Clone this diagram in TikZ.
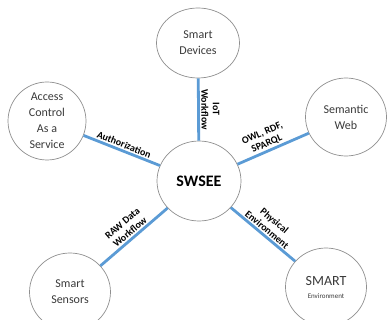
\documentclass[tikz,border=0pt]{standalone}
\usepackage{fontspec}
\setmainfont{Carlito}
\usepackage{tikz}
\usetikzlibrary{positioning,shapes.geometric}
\definecolor{link}{HTML}{5B9BD5}
\definecolor{rim}{HTML}{8F8F8F}
\definecolor{ink}{HTML}{3A3A3A}

\tikzset{
  hub/.style={ellipse, draw=rim, line width=0.7pt, fill=white,
              minimum width=81pt, minimum height=78pt, inner sep=0pt,
              align=center, text=ink, font=\fontsize{12}{16}\selectfont},
  wire/.style={draw=link, line width=2.8pt},
  tag/.style={font=\fontsize{10}{11.5}\selectfont\bfseries, align=center,
              inner sep=1.5pt, text=black},
}

\begin{document}
\begin{tikzpicture}[x=1pt, y=-1pt]
  \useasboundingbox (0,0) rectangle (388,320);

  % outer ring
  \node[hub, minimum width=83pt, minimum height=70pt] (dev) at (198,43) {Smart\\Devices};
  \node[hub, circle, minimum size=78pt] (acs) at (47,121) {Access\\Control\\As a\\Service};
  \node[hub] (sem) at (346,117) {Semantic\\Web};
  \node[hub] (sen) at (70,292) {Smart\\Sensors};
  \node[hub] (env) at (326,287) {\fontsize{14}{16}\selectfont SMART\\[-3pt]
        {\fontsize{7}{8}\selectfont Environment}};

  % hub in the middle
  \node[hub, minimum width=84pt, minimum height=80pt,
        font=\fontsize{16}{18}\selectfont\bfseries, text=black] (core) at (199,181) {SWSEE};

  % links with their tags
  \draw[wire] (dev) -- (core) node[tag, midway, sloped, above] {IoT\\Workflow};
  \draw[wire] (acs) -- (core) node[tag, midway, sloped, above] {Authorization};
  \draw[wire] (core) -- (sem) node[tag, pos=0.45, sloped, above] {OWL, RDF,\\SPARQL};
  \draw[wire] (sen) -- (core) node[tag, midway, sloped, above] {RAW Data\\Workflow};
  \draw[wire] (core) -- (env) node[tag, midway, sloped, above=0pt] {Physical\\Environment};
\end{tikzpicture}
\end{document}
